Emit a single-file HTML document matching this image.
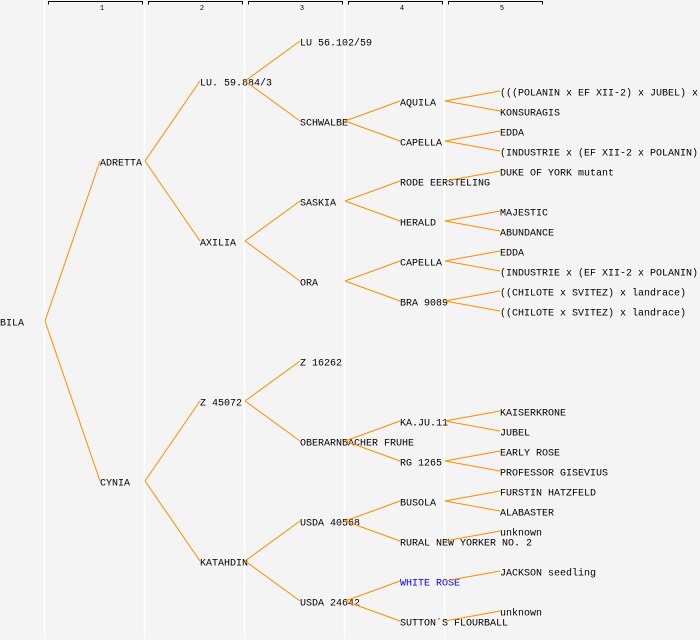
<!DOCTYPE html>
<html><head><meta charset="utf-8"><style>
html,body{margin:0;padding:0;background:#f4f4f4;}
svg{display:block;}
text{font-family:"Liberation Mono",monospace;font-size:10px;fill:#000;}
</style></head><body>
<svg width="700" height="640" xmlns="http://www.w3.org/2000/svg">
<rect width="700" height="640" fill="#f4f4f4"/>
<g stroke="#ffffff" stroke-width="1.5">
<line x1="44.5" y1="0" x2="44.5" y2="638"/>
<line x1="144.5" y1="0" x2="144.5" y2="638"/>
<line x1="244.5" y1="0" x2="244.5" y2="638"/>
<line x1="344.5" y1="0" x2="344.5" y2="638"/>
<line x1="444.5" y1="0" x2="444.5" y2="638"/>
</g>
<g stroke="#000" stroke-width="1" fill="none">
<path d="M48.5 4.5V1.5H142.5V4.5"/>
<path d="M148.5 4.5V1.5H242.5V4.5"/>
<path d="M248.5 4.5V1.5H342.5V4.5"/>
<path d="M348.5 4.5V1.5H442.5V4.5"/>
<path d="M448.5 4.5V1.5H542.5V4.5"/>
</g>
<g style="font-size:7px" text-anchor="middle">
<text x="102" y="10" style="font-size:7px">1</text>
<text x="202" y="10" style="font-size:7px">2</text>
<text x="302" y="10" style="font-size:7px">3</text>
<text x="402" y="10" style="font-size:7px">4</text>
<text x="502" y="10" style="font-size:7px">5</text>
</g>
<g>
<text x="0" y="325.5">BILA</text>
<text x="100" y="165.5">ADRETTA</text>
<text x="100" y="485.5">CYNIA</text>
<text x="200" y="85.5">LU. 59.884/3</text>
<text x="200" y="245.5">AXILIA</text>
<text x="200" y="405.5">Z 45072</text>
<text x="200" y="565.5">KATAHDIN</text>
<text x="300" y="45.5">LU 56.102/59</text>
<text x="300" y="125.5">SCHWALBE</text>
<text x="300" y="205.5">SASKIA</text>
<text x="300" y="285.5">ORA</text>
<text x="300" y="365.5">Z 16262</text>
<text x="300" y="445.5">OBERARNBACHER FRUHE</text>
<text x="300" y="525.5">USDA 40568</text>
<text x="300" y="605.5">USDA 24642</text>
<text x="400" y="105.5">AQUILA</text>
<text x="400" y="145.5">CAPELLA</text>
<text x="400" y="185.5">RODE EERSTELING</text>
<text x="400" y="225.5">HERALD</text>
<text x="400" y="265.5">CAPELLA</text>
<text x="400" y="305.5">BRA 9089</text>
<text x="400" y="425.5">KA.JU.11</text>
<text x="400" y="465.5">RG 1265</text>
<text x="400" y="505.5">BUSOLA</text>
<text x="400" y="545.5">RURAL NEW YORKER NO. 2</text>
<text x="400" y="585.5" style="fill:#0000ff">WHITE ROSE</text>
<text x="400" y="625.5">SUTTON´S FLOURBALL</text>
<text x="500" y="95.5">(((POLANIN x EF XII-2) x JUBEL) x</text>
<text x="500" y="115.5">KONSURAGIS</text>
<text x="500" y="135.5">EDDA</text>
<text x="500" y="155.5">(INDUSTRIE x (EF XII-2 x POLANIN))</text>
<text x="500" y="175.5">DUKE OF YORK mutant</text>
<text x="500" y="215.5">MAJESTIC</text>
<text x="500" y="235.5">ABUNDANCE</text>
<text x="500" y="255.5">EDDA</text>
<text x="500" y="275.5">(INDUSTRIE x (EF XII-2 x POLANIN))</text>
<text x="500" y="295.5">((CHILOTE x SVITEZ) x landrace)</text>
<text x="500" y="315.5">((CHILOTE x SVITEZ) x landrace)</text>
<text x="500" y="415.5">KAISERKRONE</text>
<text x="500" y="435.5">JUBEL</text>
<text x="500" y="455.5">EARLY ROSE</text>
<text x="500" y="475.5">PROFESSOR GISEVIUS</text>
<text x="500" y="495.5">FURSTIN HATZFELD</text>
<text x="500" y="515.5">ALABASTER</text>
<text x="500" y="535.5">unknown</text>
<text x="500" y="575.5">JACKSON seedling</text>
<text x="500" y="615.5">unknown</text>
</g>
<g stroke="#ff8c00" stroke-width="1" fill="none">
<path d="M45 321L100 161M45 321L100 481"/>
<path d="M145 161L200 81M145 161L200 241M145 481L200 401M145 481L200 561"/>
<path d="M245 81L300 41M245 81L300 121M245 241L300 201M245 241L300 281M245 401L300 361M245 401L300 441M245 561L300 521M245 561L300 601"/>
<path d="M345 121L400 101M345 121L400 141M345 201L400 181M345 201L400 221M345 281L400 261M345 281L400 301M345 441L400 421M345 441L400 461M345 521L400 501M345 521L400 541M345 601L400 581M345 601L400 621"/>
<path d="M445 101L500 91M445 101L500 111M445 141L500 131M445 141L500 151M445 181L500 171M445 221L500 211M445 221L500 231M445 261L500 251M445 261L500 271M445 301L500 291M445 301L500 311M445 421L500 411M445 421L500 431M445 461L500 451M445 461L500 471M445 501L500 491M445 501L500 511M445 541L500 531M445 581L500 571M445 621L500 611"/>
</g>
</svg>
</body></html>
